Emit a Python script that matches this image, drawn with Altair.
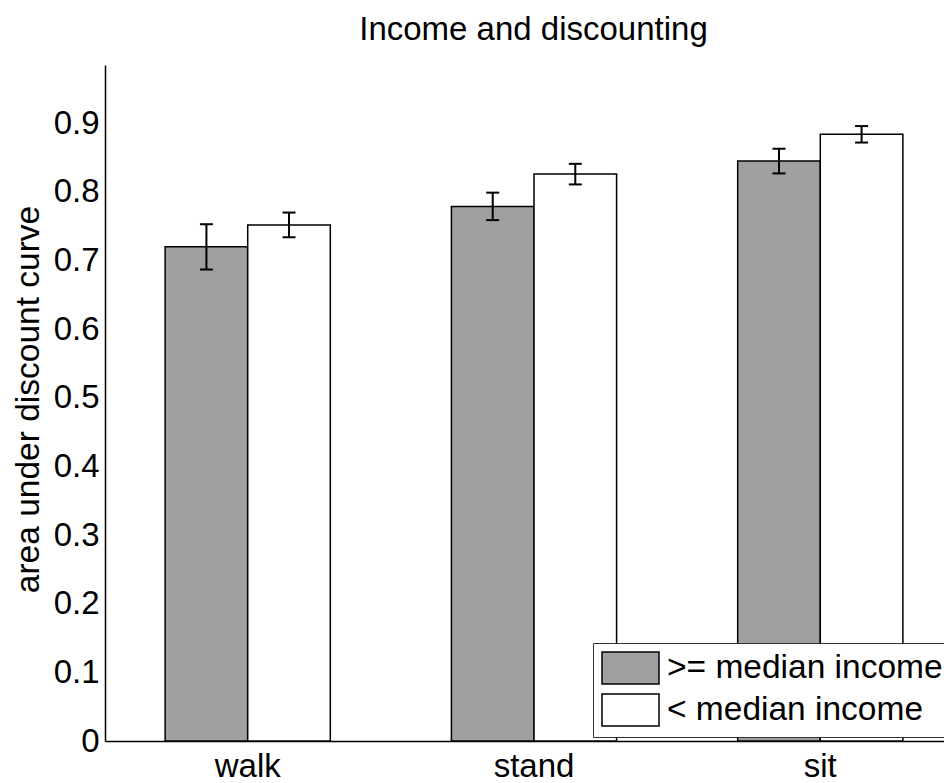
import altair as alt
import pandas as pd

categories = ["walk", "stand", "sit"]
groups = [">= median income", "< median income"]
high_income = [0.720, 0.779, 0.845]
high_err = [0.033, 0.020, 0.018]
low_income = [0.752, 0.826, 0.884]
low_err = [0.018, 0.015, 0.012]

rows = []
for i, c in enumerate(categories):
    rows.append({"category": c, "group": groups[0], "value": high_income[i], "err": high_err[i]})
    rows.append({"category": c, "group": groups[1], "value": low_income[i], "err": low_err[i]})
df = pd.DataFrame(rows)

FONT = "Liberation Sans"
GRAY = "#a0a0a0"

x_enc = alt.X(
    "category:N",
    sort=categories,
    scale=alt.Scale(range=[0, 858], paddingInner=0.423, paddingOuter=0.21),
    axis=alt.Axis(title=None, labelAngle=0, labelFontSize=33, labelFont=FONT,
                  labelColor="black", labelPadding=9, ticks=False,
                  domainColor="black", domainWidth=1.5),
)
xo_enc = alt.XOffset("group:N", sort=groups, scale=alt.Scale(paddingInner=0, paddingOuter=0))
y_scale = alt.Scale(domain=[0, 0.985], nice=False)

bars = alt.Chart().mark_bar(stroke="black", strokeWidth=1.5, opacity=1).encode(
    x=x_enc,
    xOffset=xo_enc,
    y=alt.Y("value:Q", scale=y_scale,
            axis=alt.Axis(title="area under discount curve", values=[0, 0.1, 0.2, 0.3, 0.4, 0.5, 0.6, 0.7, 0.8, 0.9],
                          format=".1~f", grid=False, ticks=False, labelFontSize=33, labelFont=FONT,
                          labelColor="black", labelPadding=6, domainColor="black", domainWidth=1.5,
                          titleFontSize=33.5, titleFont=FONT, titleFontWeight="normal", titleColor="black",
                          titleAngle=270, titleX=-77, titleY=334, titleAlign="center",
                          titleBaseline="middle")),
    fill=alt.Fill("group:N", sort=groups, scale=alt.Scale(domain=groups, range=[GRAY, "#ffffff"]),
                  legend=alt.Legend(orient="none", legendX=488, legendY=578, title=None,
                                    symbolType="M-1,-1H2.5625V1H-1Z", symbolSize=1024,
                                    symbolStrokeColor="black", symbolStrokeWidth=1.5, symbolOpacity=1,
                                    labelFontSize=33.5, labelFont=FONT, labelColor="black",
                                    labelOffset=32, padding=8, strokeColor="#333333",
                                    fillColor="white", rowPadding=4, labelLimit=0)),
)

base_err = alt.Chart().transform_calculate(
    lo="datum.value - datum.err", hi="datum.value + datum.err"
)
rule = base_err.mark_rule(color="black", strokeWidth=2).encode(
    x=x_enc, xOffset=xo_enc, y=alt.Y("lo:Q", scale=y_scale), y2="hi:Q"
)
cap_lo = base_err.mark_tick(color="black", size=13, thickness=2, opacity=1).encode(
    x=x_enc, xOffset=xo_enc, y=alt.Y("lo:Q", scale=y_scale)
)
cap_hi = base_err.mark_tick(color="black", size=13, thickness=2, opacity=1).encode(
    x=x_enc, xOffset=xo_enc, y=alt.Y("hi:Q", scale=y_scale)
)

chart = alt.layer(bars, rule, cap_lo, cap_hi, data=df).properties(
    width=839,
    height=676,
    title=alt.Title("Income and discounting", fontSize=33, font=FONT, fontWeight="normal",
                    color="black", anchor="middle", dx=9, offset=18),
    padding={"left": 97, "top": 57, "right": 0, "bottom": 42},
    autosize=alt.AutoSizeParams(type="none"),
    background="white",
).configure_view(stroke=None)

chart.save("out.html", embed_options={"renderer": "svg", "actions": False})
